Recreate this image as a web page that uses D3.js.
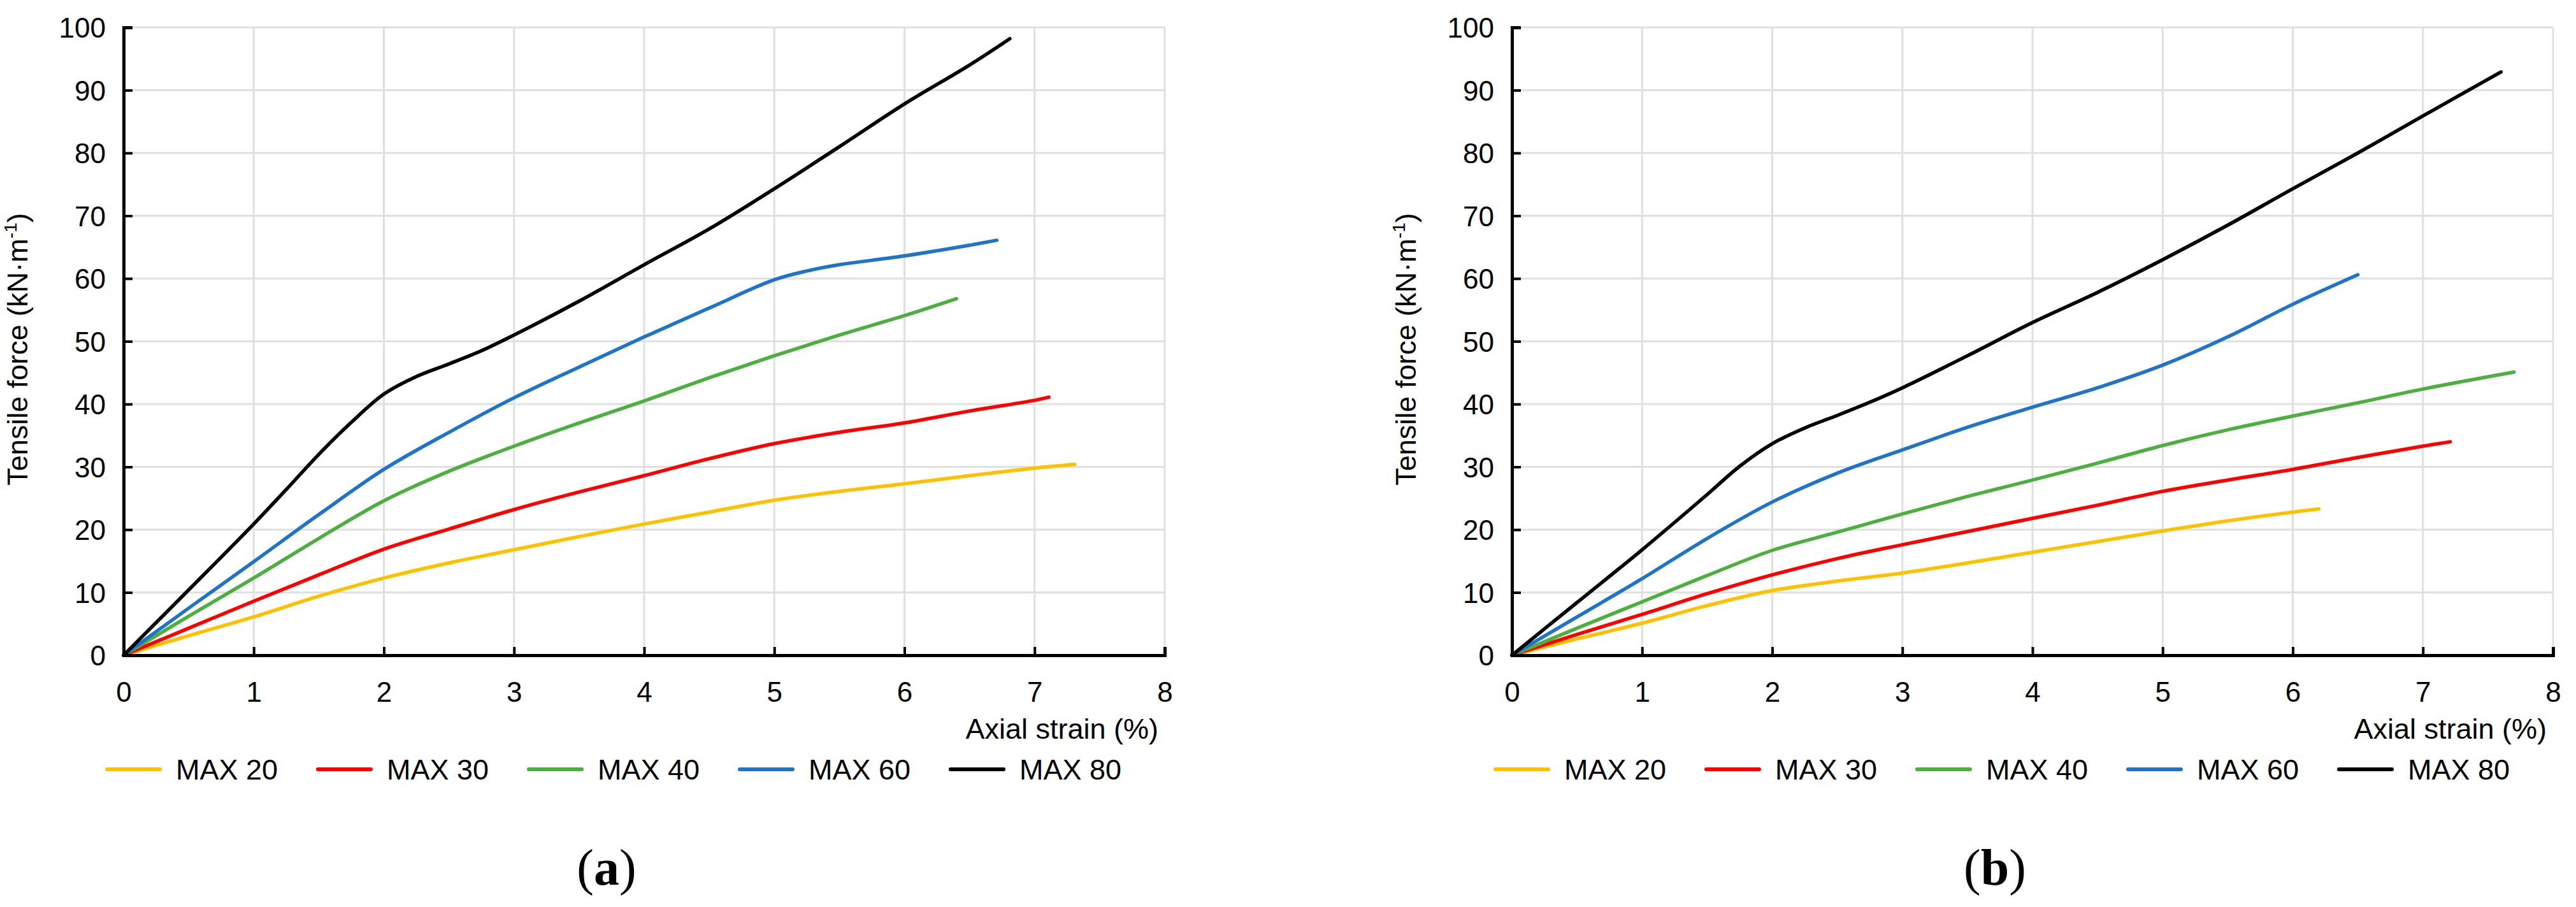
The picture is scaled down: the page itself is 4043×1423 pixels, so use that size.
<!DOCTYPE html>
<html>
<head>
<meta charset="utf-8">
<script src="https://cdn.jsdelivr.net/npm/d3@7/dist/d3.min.js"></script>
<style>
  html, body { margin: 0; padding: 0; background: #fff; overflow: hidden; }
  svg { display: block; }
</style>
</head>
<body>
<svg id="chart" width="4043" height="1423"></svg>
<script>
// ---------- data ----------
const seriesNames = ["MAX 20", "MAX 30", "MAX 40", "MAX 60", "MAX 80"];
const seriesColors = ["#FFC000", "#FF0000", "#4CAF3F", "#1F74C8", "#000000"];
const xTicks = [0, 1, 2, 3, 4, 5, 6, 7, 8];
const yTicks = [0, 10, 20, 30, 40, 50, 60, 70, 80, 90, 100];
const panelLabels = ["a", "b"];
const xTitle = "Axial strain (%)";

// panel (a)
const strainA20 = [0, 0.5, 1, 1.5, 2, 2.5, 3, 3.5, 4, 4.5, 5, 5.5, 6, 6.5, 7, 7.31];
const forceA20  = [0, 3.1, 6.1, 9.4, 12.3, 14.7, 16.8, 18.9, 20.9, 22.8, 24.7, 26.1, 27.3, 28.6, 29.8, 30.4];
const strainA30 = [0, 0.5, 1, 1.5, 2, 2.5, 3, 3.5, 4, 4.5, 5, 5.5, 6, 6.5, 7, 7.11];
const forceA30  = [0, 4.3, 8.6, 12.8, 16.9, 20.1, 23.2, 26.0, 28.6, 31.3, 33.7, 35.5, 37.0, 38.9, 40.6, 41.1];
const strainA40 = [0, 0.5, 1, 1.5, 2, 2.5, 3, 3.5, 4, 4.5, 5, 5.5, 6, 6.4];
const forceA40  = [0, 6.2, 12.3, 18.6, 24.6, 29.3, 33.3, 37.0, 40.5, 44.2, 47.7, 51.0, 54.1, 56.8];
const strainA60 = [0, 0.5, 1, 1.5, 2, 2.5, 3, 3.5, 4, 4.5, 5, 5.25, 5.5, 6, 6.5, 6.71];
const forceA60  = [0, 7.5, 14.9, 22.4, 29.6, 35.5, 41.0, 45.9, 50.7, 55.3, 59.8, 61.2, 62.2, 63.6, 65.3, 66.1];
const strainA80 = [0, 0.5, 1, 1.25, 1.5, 1.75, 2, 2.25, 2.5, 2.75, 3, 3.5, 4, 4.5, 5, 5.5, 6, 6.5, 6.81];
const forceA80  = [0, 10.4, 20.9, 26.4, 32.0, 37.1, 41.6, 44.4, 46.4, 48.5, 51.0, 56.4, 62.2, 67.9, 74.3, 81.0, 87.8, 94.0, 98.2];

// panel (b)
const strainB20 = [0, 0.5, 1, 1.5, 2, 2.5, 3, 3.5, 4, 4.5, 5, 5.5, 6, 6.2];
const forceB20  = [0, 2.6, 5.1, 7.9, 10.3, 11.8, 13.1, 14.7, 16.4, 18.1, 19.8, 21.4, 22.8, 23.3];
const strainB30 = [0, 0.5, 1, 1.5, 2, 2.5, 3, 3.5, 4, 4.5, 5, 5.5, 6, 6.5, 7, 7.21];
const forceB30  = [0, 3.3, 6.5, 9.8, 12.8, 15.4, 17.6, 19.7, 21.8, 23.9, 26.1, 27.9, 29.6, 31.5, 33.3, 34.0];
const strainB40 = [0, 0.5, 1, 1.5, 2, 2.5, 3, 3.5, 4, 4.5, 5, 5.5, 6, 6.5, 7, 7.7];
const forceB40  = [0, 4.3, 8.5, 12.7, 16.7, 19.6, 22.5, 25.3, 27.9, 30.6, 33.4, 35.9, 38.1, 40.2, 42.4, 45.1];
const strainB60 = [0, 0.5, 1, 1.5, 2, 2.5, 3, 3.5, 4, 4.5, 5, 5.5, 6, 6.5];
const forceB60  = [0, 6.1, 12.2, 18.6, 24.4, 29.0, 32.7, 36.3, 39.5, 42.6, 46.2, 50.7, 55.9, 60.6];
const strainB80 = [0, 0.5, 1, 1.5, 1.75, 2, 2.25, 2.5, 2.75, 3, 3.5, 4, 4.5, 5, 5.5, 6, 6.5, 7, 7.6];
const forceB80  = [0, 8.4, 16.8, 25.6, 30.1, 33.7, 36.2, 38.2, 40.3, 42.6, 47.7, 53.0, 57.8, 63.0, 68.5, 74.3, 80.0, 85.9, 92.9];

const panelStrains = [[strainA20, strainA30, strainA40, strainA60, strainA80],
                      [strainB20, strainB30, strainB40, strainB60, strainB80]];
const panelForces  = [[forceA20, forceA30, forceA40, forceA60, forceA80],
                      [forceB20, forceB30, forceB40, forceB60, forceB80]];

// ---------- drawing ----------
const svg = d3.select("#chart");
const SANS = "'Liberation Sans', Arial, Helvetica, sans-serif";
const SERIF = "'Liberation Serif', 'Times New Roman', serif";
const panelOffsets = [0, 2179];

panelOffsets.forEach((ox, pi) => {
  const g = svg.append("g").attr("transform", `translate(${ox},0)`);
  const x = d3.scaleLinear().domain([0, 8]).range([194, 1828]);
  const y = d3.scaleLinear().domain([0, 100]).range([1028, 43]);

  // gridlines
  g.append("g").selectAll("line").data(yTicks.filter(d => d > 0)).join("line")
    .attr("x1", x(0)).attr("x2", x(8)).attr("y1", d => y(d)).attr("y2", d => y(d))
    .attr("stroke", "#e0e0e0").attr("stroke-width", 3);
  g.append("g").selectAll("line").data(xTicks.filter(d => d > 0)).join("line")
    .attr("x1", d => x(d)).attr("x2", d => x(d)).attr("y1", y(0)).attr("y2", y(100))
    .attr("stroke", "#e0e0e0").attr("stroke-width", 3);

  // series
  const line = d3.line().x(d => x(d[0])).y(d => y(d[1])).curve(d3.curveCatmullRom.alpha(0.5));
  seriesNames.forEach((name, si) => {
    const pts = panelStrains[pi][si].map((s, k) => [s, panelForces[pi][si][k]]);
    g.append("path").datum(pts)
      .attr("d", line)
      .attr("fill", "none")
      .attr("stroke", seriesColors[si])
      .attr("stroke-width", 5.5)
      .attr("stroke-linecap", "round")
      .attr("stroke-linejoin", "round");
  });

  // axes
  const yAxis = d3.axisLeft(y).tickValues(yTicks).tickSize(-14).tickPadding(28).tickFormat(d3.format("d"));
  const yG = g.append("g").attr("transform", `translate(${x(0)},0)`).call(yAxis);
  const xAxis = d3.axisBottom(x).tickValues(xTicks).tickSize(-13).tickPadding(42).tickFormat(d3.format("d"));
  const xG = g.append("g").attr("transform", `translate(0,${y(0)})`).call(xAxis);
  [yG, xG].forEach(ag => {
    ag.select(".domain").attr("stroke", "#000").attr("stroke-width", 5);
    ag.selectAll(".tick line").attr("stroke", "#000").attr("stroke-width", 4);
    ag.selectAll(".tick text").attr("font-family", SANS).attr("font-size", 44).attr("fill", "#000");
  });
  yG.selectAll(".tick text").attr("dy", "0.36em");
  xG.selectAll(".tick text").attr("dy", "0.71em");

  // axis titles
  const yt = g.append("text")
    .attr("transform", `translate(43,548) rotate(-90)`)
    .attr("text-anchor", "middle")
    .attr("font-family", SANS).attr("font-size", 45).attr("fill", "#000");
  yt.append("tspan").text("Tensile force (kN·m");
  yt.append("tspan").attr("font-size", 28).attr("dy", -17).text("-1");
  yt.append("tspan").attr("dy", 17).text(")");

  g.append("text")
    .attr("x", x(8) - 10).attr("y", 1159)
    .attr("text-anchor", "end")
    .attr("font-family", SANS).attr("font-size", 45).attr("fill", "#000")
    .text(xTitle);

  // legend
  const lg = g.append("g");
  seriesNames.forEach((name, si) => {
    const lx = 168 + si * 331;
    lg.append("line").attr("x1", lx).attr("x2", lx + 83).attr("y1", 1207).attr("y2", 1207)
      .attr("stroke", seriesColors[si]).attr("stroke-width", 6).attr("stroke-linecap", "round");
    lg.append("text").attr("x", lx + 108).attr("y", 1223)
      .attr("font-family", SANS).attr("font-size", 45).attr("fill", "#000").text(name);
  });

  // panel label
  const pl = g.append("text")
    .attr("x", 952).attr("y", 1388)
    .attr("text-anchor", "middle")
    .attr("font-family", SERIF).attr("font-size", 80).attr("fill", "#000");
  pl.append("tspan").text("(");
  pl.append("tspan").attr("font-weight", "bold").text(panelLabels[pi]);
  pl.append("tspan").text(")");
});
</script>
</body>
</html>
